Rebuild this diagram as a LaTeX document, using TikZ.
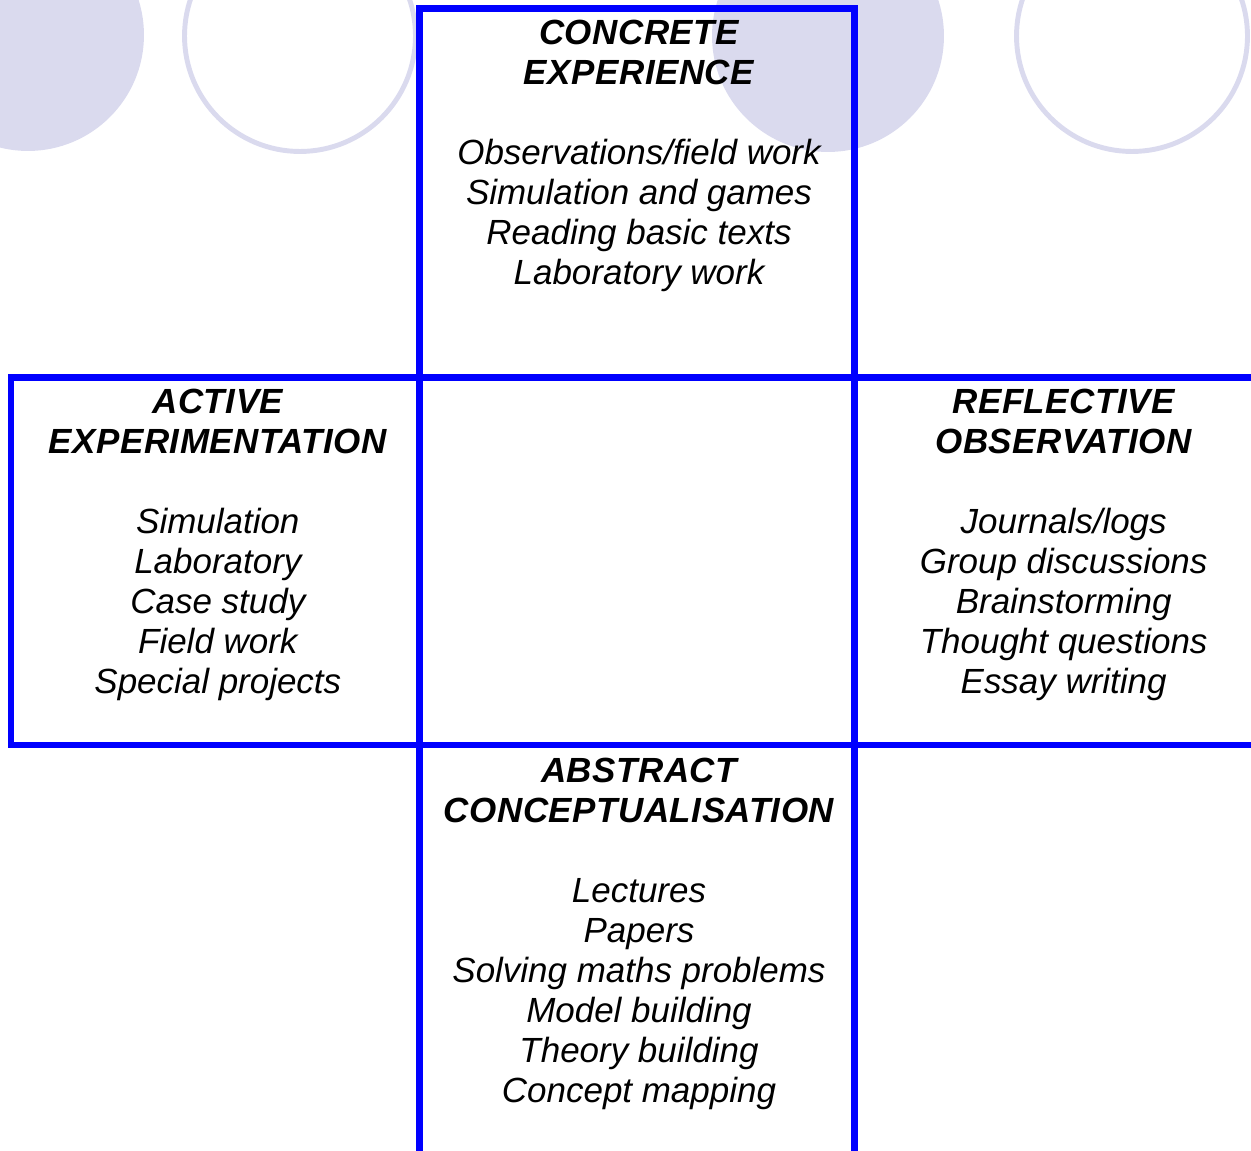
\documentclass[tikz,border=0pt]{standalone}
\usepackage{fontspec}
\setmainfont{Liberation Sans}
\usetikzlibrary{positioning}
\definecolor{lavender}{RGB}{218,218,238}
\newcommand{\cellhead}[1]{{\bfseries\addfontfeature{LetterSpace=1.5}#1}}
\tikzstyle{cell} = [rectangle, draw=blue, line width=3.7pt, inner sep=0pt, outer sep=0pt]
\tikzstyle{cellText} = [align=center, inner sep=0pt, font=\fontsize{19.9pt}{22.76pt}\selectfont\itshape]
\tikzstyle{disc} = [circle, fill=lavender, minimum size=4.64cm, inner sep=0pt]
\tikzstyle{ring} = [circle, draw=lavender, line width=2.8pt, minimum size=4.62cm, inner sep=0pt]

\begin{document}
\begin{tikzpicture}[x=0.02cm, y=-0.02cm]
    \useasboundingbox (0,0) rectangle (1251,1151);
    \clip (0,0) rectangle (1251,1151);
    % circles along the top
    \node[disc] (disc1) at (28,35) {};
    \node[ring] (ring1) at (300,36) {};
    \node[disc] (disc2) at (828,36) {};
    \node[ring] (ring2) at (1132,36) {};

    % the cross of cells
    \node[cell, minimum width=8.7cm, minimum height=7.35cm] (mid) at (637,561.25) {};
    \node[cell, minimum width=8.7cm, minimum height=7.38cm, above=0pt of mid] (ce) {};
    \node[cell, minimum width=8.17cm, minimum height=7.35cm, left=0pt of mid] (ae) {};
    \node[cell, minimum width=8.37cm, minimum height=7.35cm, right=0pt of mid] (ro) {};
    \node[cell, minimum width=8.7cm, minimum height=9cm, below=0pt of mid] (ac) {};

    \node[cellText, below=0.16cm of ce.north, xshift=0.04cm] (ceText) {\strut\cellhead{CONCRETE}\\\cellhead{EXPERIENCE}\\[\baselineskip]
        Observations/field work\\Simulation and games\\Reading basic texts\\Laboratory work};
    \node[cellText, below=0.15cm of ae.north, xshift=0.05cm] (aeText) {\strut\cellhead{ACTIVE}\\\cellhead{EXPERIMENTATION}\\[\baselineskip]
        Simulation\\Laboratory\\Case study\\Field work\\Special projects};
    \node[cellText, below=0.15cm of ro.north] (roText) {\strut\cellhead{REFLECTIVE}\\\cellhead{OBSERVATION}\\[\baselineskip]
        Journals/logs\\Group discussions\\Brainstorming\\Thought questions\\Essay writing};
    \node[cellText, below=0.18cm of ac.north, xshift=0.04cm] (acText) {\strut\cellhead{ABSTRACT}\\\cellhead{CONCEPTUALISATION}\\[\baselineskip]
        Lectures\\Papers\\Solving maths problems\\Model building\\Theory building\\Concept mapping};
\end{tikzpicture}
\end{document}
